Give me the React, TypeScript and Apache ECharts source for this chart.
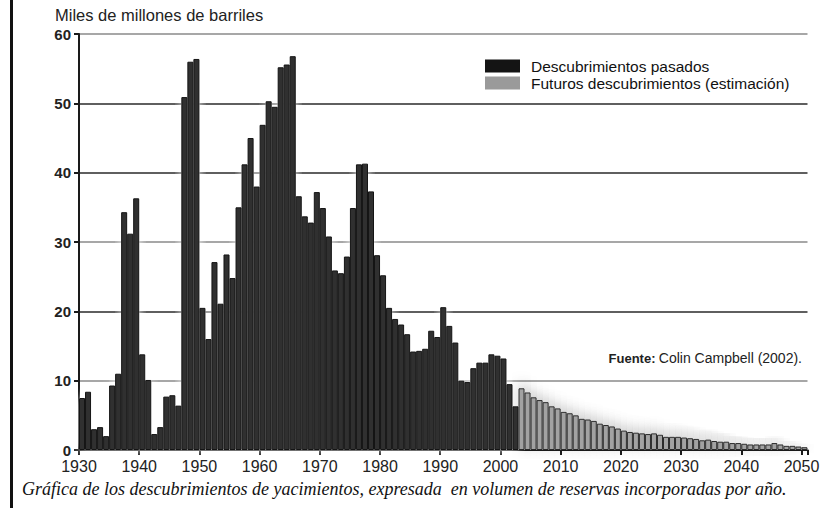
import React, { useEffect, useRef } from "react";
import * as echarts from "echarts";

const START_PAST = 1930;
const START_FUTURE = 2003;

const pastValues = [
  7.5, 8.4, 3.0, 3.3, 2.0, 9.3, 11.0, 34.3, 31.2, 36.3,
  13.8, 10.1, 2.3, 3.3, 7.7, 7.9, 6.4, 50.9, 56.0, 56.4,
  20.5, 16.0, 27.1, 21.1, 28.2, 24.8, 35.0, 41.2, 45.0, 38.0,
  46.9, 50.3, 49.5, 55.2, 55.6, 56.8, 36.6, 33.7, 32.8, 37.2,
  34.9, 30.8, 25.9, 25.5, 27.9, 34.9, 41.2, 41.3, 37.3, 28.1,
  25.2, 20.5, 18.9, 18.1, 16.7, 14.2, 14.3, 14.6, 17.2, 16.3,
  20.6, 17.9, 15.5, 10.0, 9.8, 11.8, 12.6, 12.6, 13.8, 13.6,
  13.2, 9.5, 6.3,
];

const futureValues = [
  8.9, 8.3, 7.6, 7.2, 6.9, 6.3, 6.0, 5.5, 5.3, 5.0,
  4.5, 4.4, 4.2, 3.8, 3.6, 3.4, 3.1, 2.8, 2.6, 2.5,
  2.4, 2.3, 2.4, 2.2, 1.9, 1.9, 1.9, 1.8, 1.7, 1.6,
  1.4, 1.5, 1.3, 1.2, 1.2, 1.0, 1.0, 0.9, 0.8, 0.8,
  0.8, 0.8, 1.0, 0.8, 0.6, 0.6, 0.5, 0.4,
];

const pastYears = pastValues.map((_, i) => START_PAST + i);
const futureYears = futureValues.map((_, i) => START_FUTURE + i);

const X_MIN = 1930;
const X_MAX = 2051;
const Y_MAX = 60;

const seriesNames = ["Descubrimientos pasados", "Futuros descubrimientos (estimación)"];
const yAxisTitle = "Miles de millones de barriles";
const sourceLabel = "Fuente:";
const sourceText = "Colin Campbell (2002).";
const caption =
  "Gráfica de los descubrimientos de yacimientos, expresada  en volumen de reservas incorporadas por año.";

export default function App() {
  const ref = useRef<HTMLDivElement>(null);

  useEffect(() => {
    if (!ref.current) return;
    const chart = echarts.init(ref.current, null, { renderer: "svg" });

    const pastData = pastYears.map((y, i) => [y + 0.5, pastValues[i]]);
    const futureData = futureYears.map((y, i) => [y + 0.5, futureValues[i]]);

    const sans = '"Liberation Sans", Arial, sans-serif';

    chart.setOption({
      animation: false,
      backgroundColor: "#ffffff",
      grid: { left: 79, right: 24.5, top: 34, bottom: 58, containLabel: false },
      legend: {
        left: 480,
        top: 53,
        orient: "vertical",
        itemWidth: 35,
        itemHeight: 13,
        itemGap: 1,
        icon: "rect",
        selectedMode: false,
        textStyle: { fontFamily: sans, fontSize: 15.5, color: "#111", padding: [0, 0, 0, 6] },
        data: [
          { name: seriesNames[0], itemStyle: { color: "#141414", borderWidth: 0 } },
          { name: seriesNames[1], itemStyle: { color: "#9a9a9a", borderWidth: 0 } },
        ],
      },
      xAxis: {
        type: "value",
        min: X_MIN,
        max: X_MAX,
        interval: 10,
        splitLine: { show: false },
        axisLine: { show: true, onZero: false, lineStyle: { color: "#1a1a1a", width: 2 } },
        axisTick: { show: true, length: 5, lineStyle: { color: "#1a1a1a", width: 2 } },
        axisLabel: {
          fontFamily: '"Liberation Sans Narrow", "Liberation Sans", sans-serif',
          fontSize: 16,
          color: "#222",
          margin: 8,
          formatter: (v: number) => (v % 10 === 0 ? String(v) : ""),
        },
      },
      yAxis: {
        type: "value",
        min: 0,
        max: Y_MAX,
        interval: 10,
        axisLine: { show: true, lineStyle: { color: "#1a1a1a", width: 2 } },
        axisTick: { show: true, length: 5, lineStyle: { color: "#1a1a1a", width: 2 } },
        axisLabel: {
          fontFamily: sans,
          fontSize: 15,
          fontWeight: "bold",
          color: "#222",
          margin: 8,
        },
        splitLine: {
          show: true,
          lineStyle: {
            width: 1.5,
            color: ["#222", "#8a8a8a", "#2a2a2a", "#8a8a8a", "#2a2a2a", "#2a2a2a", "#8a8a8a"],
          },
        },
      },
      series: [
        {
          name: "glow-past",
          type: "bar",
          data: pastData,
          barWidth: 6.02,
          barGap: "-100%",
          silent: true,
          z: 1,
          itemStyle: { color: "#ffffff", shadowBlur: 10, shadowColor: "#ffffff" },
        },
        {
          name: "glow-future",
          type: "bar",
          data: futureData,
          barWidth: 6.02,
          barGap: "-100%",
          silent: true,
          z: 1,
          itemStyle: {
            color: "#ffffff",
            shadowBlur: 14,
            shadowOffsetY: -4,
            shadowColor: "rgba(0,0,0,0.25)",
          },
        },
        {
          name: seriesNames[0],
          type: "bar",
          data: pastData,
          barWidth: 6.02,
          barGap: "-100%",
          z: 3,
          itemStyle: { color: "#303030", borderColor: "#141414", borderWidth: 1 },
        },
        {
          name: seriesNames[1],
          type: "bar",
          data: futureData,
          barWidth: 6.02,
          barGap: "-100%",
          z: 3,
          itemStyle: { color: "#a2a2a2", borderColor: "#2a2a2a", borderWidth: 1 },
        },
      ],
      graphic: [
        { type: "rect", shape: { x: 10, y: 0, width: 3, height: 508 }, style: { fill: "#111" }, silent: true },
        {
          type: "text",
          x: 55,
          y: 15,
          style: {
            text: yAxisTitle,
            fontFamily: sans,
            fontSize: 16.5,
            fill: "#222",
            verticalAlign: "middle",
          },
        },
        {
          type: "text",
          x: 802,
          y: 358,
          style: {
            text: `{b|${sourceLabel}} {n|${sourceText}}`,
            align: "right",
            verticalAlign: "middle",
            rich: {
              b: { fontFamily: sans, fontSize: 13, fontWeight: "bold", fill: "#222", color: "#222" },
              n: { fontFamily: '"Liberation Sans Narrow", "Liberation Sans", sans-serif', fontSize: 14, fill: "#222", color: "#222" },
            },
          },
        },
        {
          type: "text",
          x: 22,
          y: 489,
          style: {
            text: caption,
            fontFamily: '"Liberation Serif", "Times New Roman", serif',
            fontStyle: "italic",
            fontSize: 18,
            fill: "#111",
            verticalAlign: "middle",
          },
        },
      ],
    });

    return () => chart.dispose();
  }, []);

  return (
    <div
      ref={ref}
      style={{ position: "fixed", left: 0, top: 0, width: 832, height: 508, background: "#fff" }}
    />
  );
}
